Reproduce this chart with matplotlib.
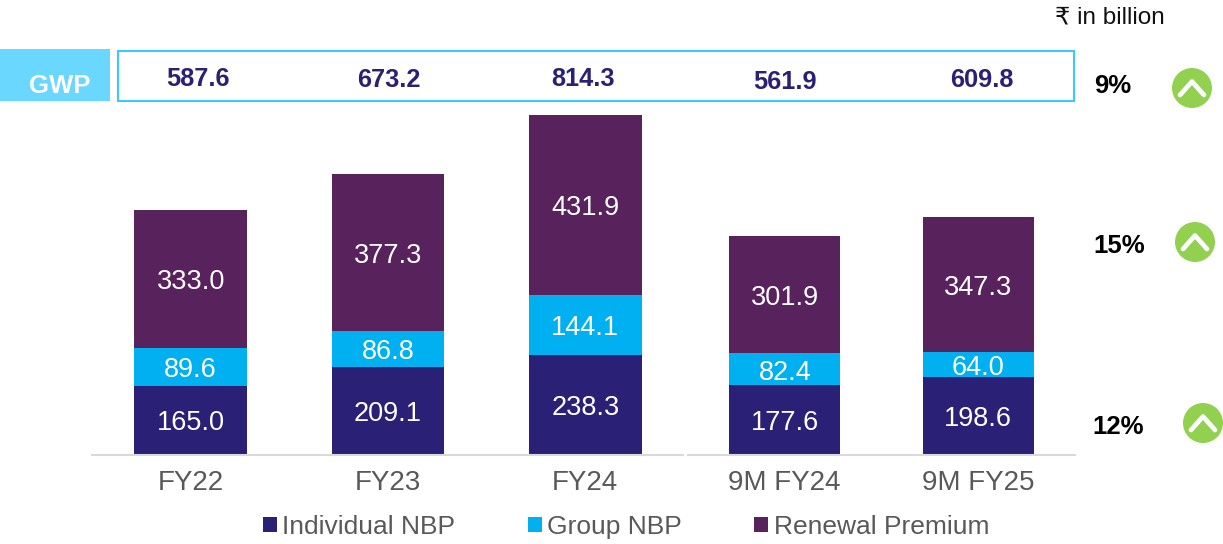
import matplotlib
matplotlib.use("Agg")
import numpy as np
import matplotlib.pyplot as plt
from matplotlib.patches import Circle, Rectangle

plt.rcParams['font.family'] = ['Liberation Sans', 'DejaVu Sans']

# chart data
fy_labels = ['FY22', 'FY23', 'FY24']
fy_individual = [165.0, 209.1, 238.3]
fy_group = [89.6, 86.8, 144.1]
fy_renewal = [333.0, 377.3, 431.9]

nine_m_labels = ['9M FY24', '9M FY25']
nine_m_individual = [177.6, 198.6]
nine_m_group = [82.4, 64.0]
nine_m_renewal = [301.9, 347.3]

gwp_values = ['587.6', '673.2', '814.3', '561.9', '609.8']
growth_labels = ['9%', '15%', '12%']
series_names = ['Individual NBP', 'Group NBP', 'Renewal Premium']

NAVY = '#2A2076'
CYAN = '#00B0F0'
PURPLE = '#58225D'
TEXT_GREY = '#595959'
W, H = 1223, 544


def px_axes(fig, x0, x1, y_top, y_bottom):
    return fig.add_axes([x0 / W, 1 - y_bottom / H, (x1 - x0) / W, (y_bottom - y_top) / H])


def stacked(ax, labels, individual, group, renewal, width, ymax, x_end):
    x = np.arange(len(labels))
    b1 = np.array(individual)
    b2 = np.array(group)
    r1 = ax.bar(x, individual, width, color=NAVY, label=series_names[0])
    r2 = ax.bar(x, group, width, bottom=b1, color=CYAN, label=series_names[1])
    r3 = ax.bar(x, renewal, width, bottom=b1 + b2, color=PURPLE, label=series_names[2])
    for r in (r1, r2, r3):
        for lab in ax.bar_label(r, fmt='%.1f', label_type='center', color='white', fontsize=19.5):
            lab.xyann = (0, -2.2)
    ax.set_xlim(-0.5, x_end)
    ax.set_ylim(0, ymax)
    ax.set_xticks(x, labels)
    ax.set_yticks([])
    ax.tick_params(axis='x', length=0, pad=11, labelsize=20, labelcolor=TEXT_GREY)
    for s in ['top', 'left', 'right']:
        ax.spines[s].set_visible(False)
    ax.spines['bottom'].set_color('#D9D9D9')
    ax.spines['bottom'].set_linewidth(1.5)
    return r1, r2, r3


fig = plt.figure(figsize=(W / 100, H / 100), dpi=100)

ax1 = px_axes(fig, 92, 683, 104, 454.5)
handles = stacked(ax1, fy_labels, fy_individual, fy_group, fy_renewal, 0.572, 350.5 / 0.4165, 2.495)

ax2 = px_axes(fig, 688, 1075, 104, 454.5)
stacked(ax2, nine_m_labels, nine_m_individual, nine_m_group, nine_m_renewal, 0.574, 350.5 / 0.3887, 1.5)

fig.legend(handles, series_names, ncol=3, loc='center', bbox_to_anchor=(626 / W, 1 - 527 / H),
           frameon=False, fontsize=19, labelcolor=TEXT_GREY, handlelength=0.53, handleheight=0.53,
           handletextpad=0.2, columnspacing=2.75, borderpad=0, borderaxespad=0)

# overlay in pixel units for the GWP strip and the growth column
ov = fig.add_axes([0, 0, 1, 1], zorder=5)
ov.set_xlim(0, W)
ov.set_ylim(H, 0)
ov.axis('off')

ov.add_patch(Rectangle((0, 49), 110, 52, facecolor='#69D7FF', edgecolor='none'))
ov.text(60, 86, 'GWP', color='white', fontsize=18.5, fontweight='bold', ha='center', va='center')
ov.add_patch(Rectangle((118, 50.5), 956, 50, facecolor='none', edgecolor='#3CC8FB', linewidth=1.5))

gwp_x = [197.5, 388.5, 583, 785, 981.5]
gwp_y = [79, 80, 79, 82, 80]
for x, y, v in zip(gwp_x, gwp_y, gwp_values):
    ov.text(x, y, v, color=NAVY, fontsize=18.3, fontweight='bold', ha='center', va='center')

ov.text(1110, 18, '₹ in billion', color='#111111', fontsize=17.5, ha='center', va='center')

growth_x = [1113, 1119, 1118]
growth_y = [86, 246, 427]
circle_x = [1192, 1195, 1203]
circle_y = [88, 242, 423]
for tx, ty, cx, cy, g in zip(growth_x, growth_y, circle_x, circle_y, growth_labels):
    ov.text(tx, ty, g, color='black', fontsize=18.5, fontweight='bold', ha='center', va='center')
    ov.add_patch(Circle((cx, cy), 20, facecolor='#92D050', edgecolor='none'))
    ov.plot([cx - 12, cx, cx + 12], [cy + 7, cy - 6.5, cy + 7], color='white', lw=3.4,
            solid_capstyle='round', solid_joinstyle='round')

fig.savefig('out.png', dpi=100)
